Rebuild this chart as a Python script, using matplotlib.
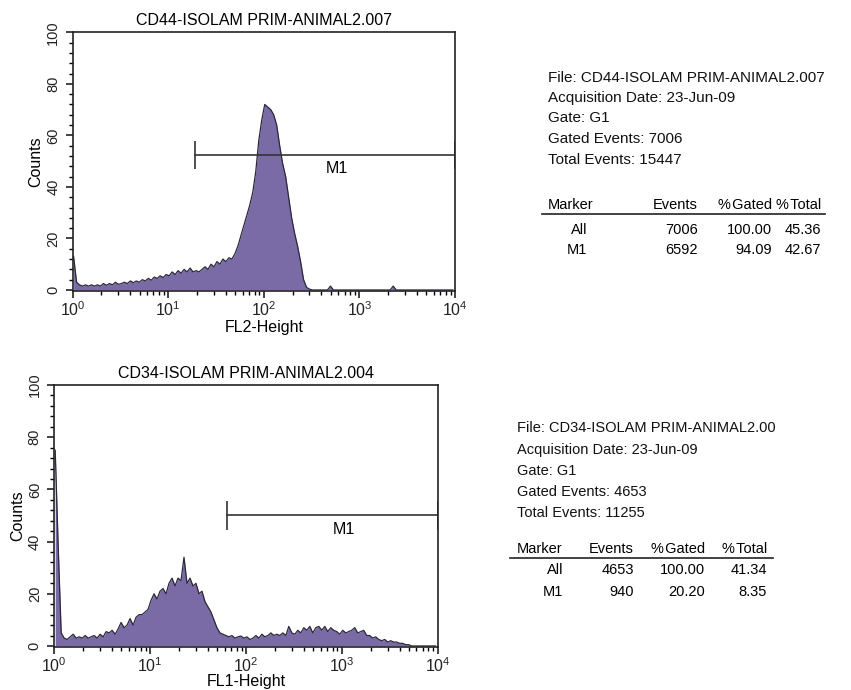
import numpy as np
import matplotlib
matplotlib.use("Agg")
import matplotlib.pyplot as plt
from matplotlib.ticker import FixedLocator, MultipleLocator, LogLocator, NullFormatter
from matplotlib.lines import Line2D

plt.rcParams['font.family'] = ['Liberation Sans', 'DejaVu Sans']
plt.rcParams['mathtext.fontset'] = 'custom'
plt.rcParams['mathtext.rm'] = 'Liberation Sans'
plt.rcParams['mathtext.it'] = 'Liberation Sans'

# 128 log channels, 32 per decade, from 10^0 to 10^4
n_per_decade = 32

# CD44 histogram (FL2-Height)
cd44_counts = [
    13, 3, 2, 1.5, 2, 1.5, 2, 1.5, 2, 1.5, 2.5, 1.8, 2.5, 2, 3, 2.2,
    2.5, 3, 2.5, 3.5, 2.8, 3.5, 3, 4, 3.5, 4.5, 3.8, 5, 4.5, 5.5, 4.8, 6,
    5.5, 7, 6, 7.5, 6.5, 8, 7, 8.5, 7, 7.5, 7, 8, 9, 8, 10, 9,
    11, 10, 12, 11, 12.5, 12, 14, 17, 21, 25, 29, 33, 38, 46, 58, 66,
    72, 71, 70, 68, 64, 56, 49, 44, 36, 28, 22, 17, 11, 4, 1, 0.3,
    0, 0, 0, 0, 0, 0, 1.5, 0, 0, 0, 0, 0, 0, 0, 0, 0,
    0, 0, 0, 0, 0, 0, 0, 0, 0, 0, 0, 1.5, 0, 0, 0, 0,
    0, 0, 0, 0, 0, 0, 0, 0, 0, 0, 0, 0, 0, 0, 0, 0,
]

# CD34 histogram (FL1-Height)
cd34_counts = [
    75, 38, 5, 3, 2.5, 3.5, 4.5, 3, 3.5, 3, 4, 3, 3.5, 4, 3, 4.5,
    3.5, 5.5, 5, 6, 4.5, 6.5, 9, 7, 8, 10.5, 8, 11, 12, 12, 13, 14,
    17.5, 20, 18, 21, 22, 20, 24, 26, 23, 26, 25, 34, 24, 26, 23, 24,
    20, 21, 17, 15, 13, 10, 7, 5, 4.5, 4, 3.5, 4, 3, 3.5, 3.8, 3,
    3.5, 2.5, 3, 4, 3, 4.5, 3.5, 4, 5, 4, 4.5, 4, 5, 4, 7.5, 5,
    4.5, 6, 5, 7, 6, 7.5, 5, 7, 7.5, 6, 7.5, 5.5, 7, 6, 5.5, 4.5,
    6, 5, 5.5, 6, 7, 5, 5.5, 6, 4, 4, 3, 3.5, 2.5, 2, 2.5, 1.5,
    2, 1.5, 1.5, 1, 1, 0.5, 0.5, 0, 0, 0, 0, 0, 0, 0, 0, 0,
]

titles = ["CD44-ISOLAM PRIM-ANIMAL2.007", "CD34-ISOLAM PRIM-ANIMAL2.004"]
xlabels = ["FL2-Height", "FL1-Height"]
m1_ranges = [(19, 10000), (63, 10000)]
m1_levels = [52.5, 50]

info_lines = [
    ["File: CD44-ISOLAM PRIM-ANIMAL2.007", "Acquisition Date: 23-Jun-09",
     "Gate: G1", "Gated Events: 7006", "Total Events: 15447"],
    ["File: CD34-ISOLAM PRIM-ANIMAL2.00", "Acquisition Date: 23-Jun-09",
     "Gate: G1", "Gated Events: 4653", "Total Events: 11255"],
]
table_header = ["Marker", "Events", "%\u200aGated", "%\u200aTotal"]
table_rows = [
    [["All", "7006", "100.00", "45.36"], ["M1", "6592", "94.09", "42.67"]],
    [["All", "4653", "100.00", "41.34"], ["M1", "940", "20.20", "8.35"]],
]

fill_color = "#7a6aa6"
edge_color = "#2b2838"
W, H = 851, 690

fig = plt.figure(figsize=(W / 100, H / 100), dpi=100)


def fx(px):
    return px / W


def fy(py):
    return 1 - py / H


# axes boxes in pixels: left, right, top, bottom
ax_boxes = [(72.7, 455, 32.3, 291), (54.3, 437.7, 385, 647)]
xlabel_tops = [320, 674]
# text panels in pixels
panels = [
    dict(x=548, lines=[78, 98, 118, 139, 160], head=205, uline=214, rows=[230, 250],
         cols=[587, 698, 772, 821], ux=(542, 825), size=11, tsize=10.5),
    dict(x=517, lines=[428, 450, 471, 492, 513], head=549, uline=558, rows=[570, 592],
         cols=[563, 634, 705, 767], ux=(510, 773), size=10.5, tsize=10.5),
]

for k, counts in enumerate([cd44_counts, cd34_counts]):
    l, r, t, b = ax_boxes[k]
    ax = fig.add_axes([fx(l), fy(b), fx(r) - fx(l), fy(t) - fy(b)])
    counts = np.array(counts, dtype=float)
    centers = 10 ** ((np.arange(len(counts)) + 0.3) / n_per_decade)
    ax.fill_between(centers, 0, counts, color=fill_color, lw=0)
    ax.plot(centers, counts, color=edge_color, linewidth=0.9)

    ax.set_xscale('log')
    ax.set_xlim(1, 1e4)
    ax.set_ylim(-0.4, 100)

    # marker M1
    lo, hi = m1_ranges[k]
    yv = m1_levels[k]
    ax.plot([lo, hi], [yv, yv], color='#333333', lw=1.2)
    ax.vlines([lo, hi], yv - 5.5, yv + 5.5, color='#333333', lw=1.2)
    ax.text(10 ** ((np.log10(lo) + 4) / 2 + 0.12), yv - 2.5, "M1",
            ha='center', va='top', fontsize=11.5)

    ax.xaxis.set_minor_locator(LogLocator(base=10, subs=np.arange(2, 10), numticks=10))
    ax.xaxis.set_minor_formatter(NullFormatter())
    ax.set_xticks([1, 10, 100, 1000, 10000])
    ax.set_xticklabels([r'$10^{0}$', r'$10^{1}$', r'$10^{2}$', r'$10^{3}$', r'$10^{4}$'])
    ax.yaxis.set_major_locator(FixedLocator([0, 20, 40, 60, 80, 100]))
    ax.yaxis.set_minor_locator(MultipleLocator(4))
    for lab in ax.get_yticklabels():
        lab.set_rotation(90)
        lab.set_va('center')
    ax.tick_params(axis='both', which='major', direction='out', length=5, width=1.2,
                   labelsize=11.5, colors='#222222')
    ax.tick_params(axis='x', which='major', pad=2)
    ax.tick_params(axis='y', which='major', labelsize=10.5, pad=4)
    ax.tick_params(axis='both', which='minor', direction='out', length=3, width=1)
    for sp in ax.spines.values():
        sp.set_linewidth(1.2)
        sp.set_color('#222222')

    ax.set_title(titles[k], fontsize=11.5, pad=5)
    ax.set_xlabel(xlabels[k], fontsize=11.5)
    ax.xaxis.set_label_coords(0.5, (b - xlabel_tops[k]) / (b - t))
    ax.set_ylabel("Counts", fontsize=11.5, labelpad=2)

    # info panel
    p = panels[k]
    fs = p['size']
    ts = p['tsize']
    for line, yy in zip(info_lines[k], p['lines']):
        fig.text(fx(p['x']), fy(yy), line, fontsize=fs, va='center', ha='left', color='#111111')
    fig.text(fx(p['x']), fy(p['head']), table_header[0], fontsize=ts, va='center', ha='left')
    for name, cx in zip(table_header[1:], p['cols'][1:]):
        fig.text(fx(cx), fy(p['head']), name, fontsize=ts, va='center', ha='right')
    fig.add_artist(Line2D([fx(p['ux'][0]), fx(p['ux'][1])], [fy(p['uline'])] * 2,
                         color='#222222', lw=1.2))
    for row, yy in zip(table_rows[k], p['rows']):
        for cell, cx in zip(row, p['cols']):
            fig.text(fx(cx), fy(yy), cell, fontsize=ts, va='center', ha='right')

fig.savefig("out.png", dpi=100)
